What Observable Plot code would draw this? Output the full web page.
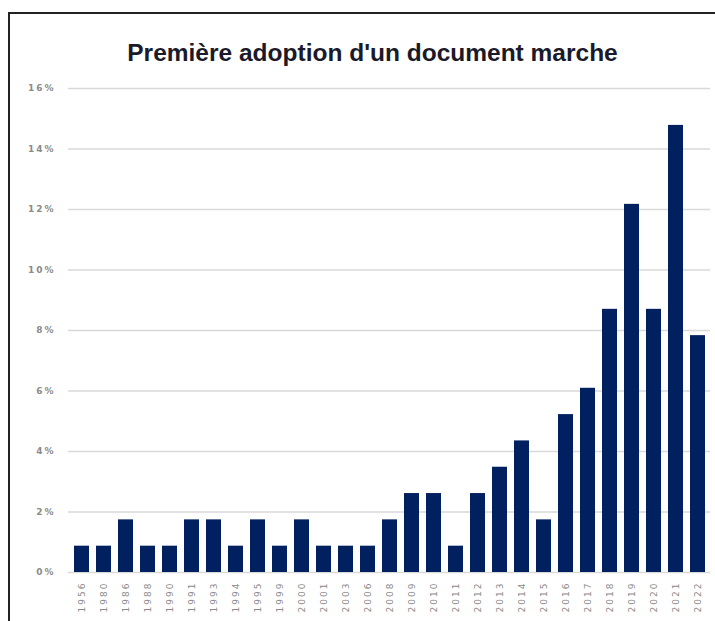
<!DOCTYPE html>
<html><head><meta charset="utf-8">
<script src="https://cdn.jsdelivr.net/npm/d3@7"></script>
<script src="https://cdn.jsdelivr.net/npm/@observablehq/plot@0.6"></script>
<style>
html,body{margin:0;padding:0;background:#fff;width:715px;height:621px;overflow:hidden;}
#frame{position:absolute;left:8px;top:12px;width:720px;height:640px;border-left:2px solid #222;border-top:2px solid #222;box-sizing:border-box;}
#title{position:absolute;left:0;width:745px;top:41px;line-height:1;text-align:center;font-family:"Liberation Sans",Arial,sans-serif;font-weight:bold;font-size:24.5px;color:#1a1a2a;white-space:nowrap;}
#chart{position:absolute;left:0;top:60px;}
g[aria-label="x-axis tick label"] text{letter-spacing:2px;}
g[aria-label="y-axis tick label"] text{letter-spacing:2px;}
</style></head>
<body>
<div id="frame"></div>
<div id="title">Première adoption d'un document marche</div>
<div id="chart"></div>
<script>
const years = ["1956","1980","1986","1988","1990","1991","1993","1994","1995","1999","2000","2001","2003","2006","2008","2009","2010","2011","2012","2013","2014","2015","2016","2017","2018","2019","2020","2021","2022"];
const shares = [0.87,0.87,1.74,0.87,0.87,1.74,1.74,0.87,1.74,0.87,1.74,0.87,0.87,0.87,1.74,2.61,2.61,0.87,2.61,3.48,4.35,1.74,5.22,6.09,8.70,12.17,8.70,14.78,7.83];
const yTicks = [0,2,4,6,8,10,12,14,16];

const data = years.map((y,i)=>({year:y, value:shares[i]}));

const chart = Plot.plot({
  width: 715,
  height: 560,
  marginLeft: 68,
  marginRight: 5,
  marginTop: 28,
  marginBottom: 48,
  style: {fontFamily: "DejaVu Sans, sans-serif", background: "transparent"},
  x: {domain: years, paddingInner: 0.32, paddingOuter: 0.15, label: null},
  y: {domain: [0,16], label: null},
  marks: [
    Plot.gridY(yTicks, {stroke: "#d9d9d9", strokeOpacity: 1, strokeWidth: 1.5}),
    Plot.barY(data, {x: "year", y: "value", fill: "#002060"}),
    Plot.axisY(yTicks, {tickSize: 0, tickPadding: 13, tickFormat: d => d + "%", fontSize: 9, fontWeight: "bold", fill: "#8a8a8a"}),
    Plot.axisX({tickSize: 0, tickPadding: 9, tickRotate: -90, fontSize: 9, fill: "#8a8a8a"})
  ]
});
document.getElementById("chart").appendChild(chart);
</script>
</body></html>
